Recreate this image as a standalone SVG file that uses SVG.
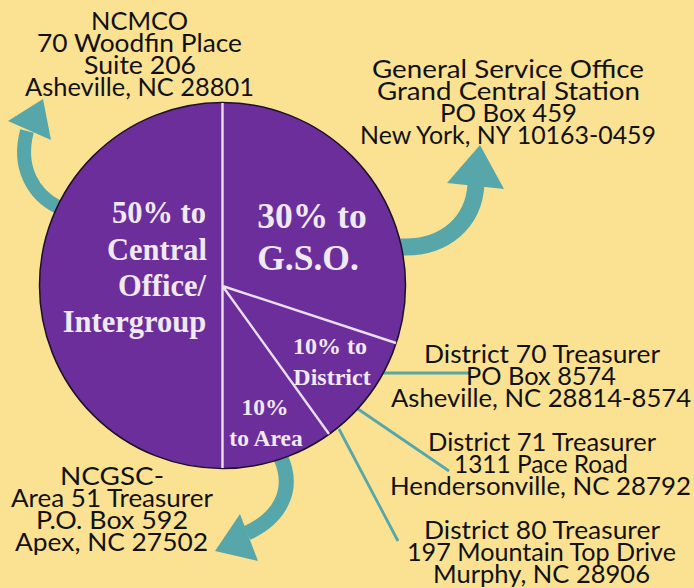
<svg xmlns="http://www.w3.org/2000/svg" width="694" height="588" viewBox="0 0 694 588">
<style>
.a{font-family:"Lato","Noto Sans",sans-serif;font-size:25px;font-weight:400;fill:#111;text-anchor:middle}
.p{font-family:"Liberation Serif","Times New Roman",serif;font-weight:700;fill:#f1e9f6;text-anchor:middle}
.d{fill:none;stroke:#57a6a9;stroke-width:2.8}
.c{fill:none;stroke:#57a6a9}
.h{fill:#57a6a9}
.s{stroke:#e9dff0;stroke-width:2.4;fill:none}
</style>
<rect width="694" height="588" fill="#fbe293"/>
<g id="connectors">
<path class="c" stroke-width="14" d="M58 207C34 195 17 168 27 131"/>
<polygon class="h" points="8,121 43,99 51,140"/>
<path class="c" stroke-width="17" d="M400 247C445 249 474 222 476 184"/>
<polygon class="h" points="447,183 480,145 504,189"/>
<path class="c" stroke-width="15" d="M281 458C295 490 280 518 247 533"/>
<polygon class="h" points="215,551 240,514 258,561"/>
<path class="d" d="M383 373H470"/>
<path class="d" d="M358 409L449 471"/>
<path class="d" d="M339 429L398 541"/>
</g>
<g id="pie">
<circle cx="222.500" cy="285.500" r="183" fill="#6c2e9b" stroke="#1c1128" stroke-width="1.500"/>
<path class="s" d="M222.500 103V468M222.500 286L396 343M222.500 286L329 434"/>
</g>
<g id="slice-central"><text class="p" font-size="30.500"><tspan x="159" y="223">50% to</tspan><tspan x="157" y="260">Central</tspan><tspan x="162" y="296">Office/</tspan><tspan x="134.500" y="332">Intergroup</tspan></text></g>
<g id="slice-gso"><text class="p" font-size="35.500"><tspan x="312" y="228">30% to</tspan><tspan x="308" y="270">G.S.O.</tspan></text></g>
<g id="slice-district"><text class="p" font-size="24"><tspan x="330" y="354">10% to</tspan><tspan x="332" y="385">District</tspan></text></g>
<g id="slice-area"><text class="p" font-size="23.500"><tspan x="265" y="415">10%</tspan><tspan x="266" y="446">to Area</tspan></text></g>
<g id="ncmco">
<text class="a" x="139.500" y="30" textLength="97" lengthAdjust="spacingAndGlyphs">NCMCO</text>
<text class="a" x="139.500" y="52" textLength="205" lengthAdjust="spacingAndGlyphs">70 Woodfin Place</text>
<text class="a" x="140" y="74" textLength="112" lengthAdjust="spacingAndGlyphs">Suite 206</text>
<text class="a" x="139.500" y="96" textLength="229" lengthAdjust="spacingAndGlyphs">Asheville, NC 28801</text>
</g>
<g id="gso">
<text class="a" x="508" y="78" textLength="272" lengthAdjust="spacingAndGlyphs">General Service Office</text>
<text class="a" x="508.500" y="100" textLength="263" lengthAdjust="spacingAndGlyphs">Grand Central Station</text>
<text class="a" x="508.500" y="122" textLength="137" lengthAdjust="spacingAndGlyphs">PO Box 459</text>
<text class="a" x="508" y="144" textLength="296" lengthAdjust="spacingAndGlyphs">New York, NY 10163-0459</text>
</g>
<g id="district70">
<text class="a" x="542" y="363" textLength="236" lengthAdjust="spacingAndGlyphs">District 70 Treasurer</text>
<text class="a" x="541" y="385" textLength="150" lengthAdjust="spacingAndGlyphs">PO Box 8574</text>
<text class="a" x="541" y="407" textLength="300" lengthAdjust="spacingAndGlyphs">Asheville, NC 28814-8574</text>
</g>
<g id="district71">
<text class="a" x="542" y="451" textLength="228" lengthAdjust="spacingAndGlyphs">District 71 Treasurer</text>
<text class="a" x="541" y="473" textLength="174" lengthAdjust="spacingAndGlyphs">1311 Pace Road</text>
<text class="a" x="540.500" y="495" textLength="301" lengthAdjust="spacingAndGlyphs">Hendersonville, NC 28792</text>
</g>
<g id="district80">
<text class="a" x="542" y="539" textLength="236" lengthAdjust="spacingAndGlyphs">District 80 Treasurer</text>
<text class="a" x="541.500" y="561" textLength="269" lengthAdjust="spacingAndGlyphs">197 Mountain Top Drive</text>
<text class="a" x="541.500" y="583" textLength="217" lengthAdjust="spacingAndGlyphs">Murphy, NC 28906</text>
</g>
<g id="area51">
<text class="a" x="112" y="485" textLength="104" lengthAdjust="spacingAndGlyphs">NCGSC-</text>
<text class="a" x="112" y="507" textLength="202" lengthAdjust="spacingAndGlyphs">Area 51 Treasurer</text>
<text class="a" x="112" y="529" textLength="152" lengthAdjust="spacingAndGlyphs">P.O. Box 592</text>
<text class="a" x="111.500" y="551" textLength="193" lengthAdjust="spacingAndGlyphs">Apex, NC 27502</text>
</g>
</svg>
